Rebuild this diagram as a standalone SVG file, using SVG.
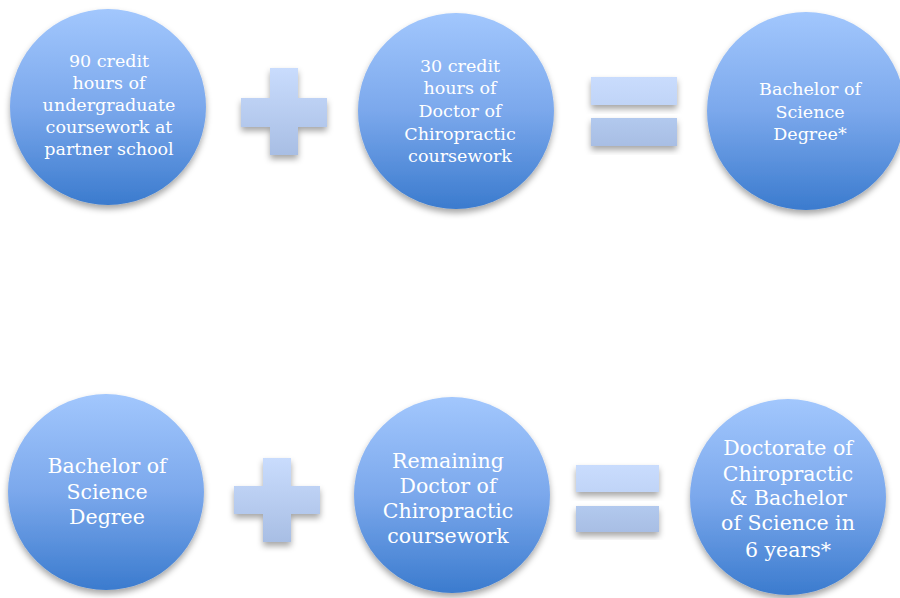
<svg xmlns="http://www.w3.org/2000/svg" width="900" height="598" viewBox="0 0 900 598">
<defs>
<linearGradient id="gc" x1="0" y1="0" x2="0" y2="1">
<stop offset="0" stop-color="#a2c7fd"/>
<stop offset="0.5" stop-color="#7ba8ec"/>
<stop offset="1" stop-color="#3b7bce"/>
</linearGradient>
<linearGradient id="gp" x1="0" y1="0" x2="0" y2="1">
<stop offset="0" stop-color="#c9dcfd"/>
<stop offset="1" stop-color="#a8bee4"/>
</linearGradient>
<linearGradient id="ge1" x1="0" y1="0" x2="0" y2="1">
<stop offset="0" stop-color="#c9dcfd"/>
<stop offset="1" stop-color="#c0d4f7"/>
</linearGradient>
<linearGradient id="ge2" x1="0" y1="0" x2="0" y2="1">
<stop offset="0" stop-color="#b2c9ee"/>
<stop offset="1" stop-color="#a8bee4"/>
</linearGradient>
<filter id="sh" x="-20%" y="-20%" width="140%" height="150%">
<feDropShadow dx="0" dy="4" stdDeviation="3" flood-color="#000" flood-opacity="0.35"/>
</filter>
</defs>
<style>
.c{fill:url(#gc);filter:url(#sh)}
.p{fill:url(#gp);filter:url(#sh)}
.e1{fill:url(#ge1);filter:url(#sh)}
.e2{fill:url(#ge2);filter:url(#sh)}
text{font-family:"DejaVu Serif","Liberation Serif",serif;fill:#ffffff;text-anchor:middle}
.s{font-size:17.5px}
.l{font-size:20.5px}
</style>
<g id="node-undergrad">
<circle class="c" cx="108" cy="107" r="98"/>
<text class="s"><tspan x="109" y="67">90 credit</tspan><tspan x="109" y="89">hours of</tspan><tspan x="109" y="111">undergraduate</tspan><tspan x="109" y="133">coursework at</tspan><tspan x="109" y="155">partner school</tspan></text>
</g>
<g id="node-plus1">
<path class="p" d="M270 68H298V98H327V127H298V155H270V127H241V98H270Z"/>
</g>
<g id="node-dc30">
<circle class="c" cx="456" cy="111" r="98"/>
<text class="s"><tspan x="460" y="72">30 credit</tspan><tspan x="460" y="94">hours of</tspan><tspan x="460" y="117">Doctor of</tspan><tspan x="460" y="140">Chiropractic</tspan><tspan x="460" y="162">coursework</tspan></text>
</g>
<g id="node-equals1">
<rect class="e1" x="591" y="77" width="86" height="28"/>
<rect class="e2" x="591" y="118" width="86" height="28"/>
</g>
<g id="node-bs1">
<circle class="c" cx="806" cy="111" r="99"/>
<text class="s"><tspan x="810" y="95">Bachelor of</tspan><tspan x="810" y="118">Science</tspan><tspan x="810" y="140">Degree*</tspan></text>
</g>
<g id="node-bs2">
<circle class="c" cx="106" cy="492" r="98"/>
<text class="l"><tspan x="107" y="473">Bachelor of</tspan><tspan x="107" y="499">Science</tspan><tspan x="107" y="524">Degree</tspan></text>
</g>
<g id="node-plus2">
<path class="p" d="M263 458H291V486H320V514H291V542H263V514H234V486H263Z"/>
</g>
<g id="node-remaining">
<circle class="c" cx="452" cy="495" r="98"/>
<text class="l"><tspan x="448" y="468">Remaining</tspan><tspan x="448" y="493">Doctor of</tspan><tspan x="448" y="518">Chiropractic</tspan><tspan x="448" y="543">coursework</tspan></text>
</g>
<g id="node-equals2">
<rect class="e1" x="576" y="465" width="83" height="27"/>
<rect class="e2" x="576" y="506" width="83" height="26"/>
</g>
<g id="node-dc-bs">
<circle class="c" cx="788" cy="497" r="98"/>
<text class="l"><tspan x="788" y="455">Doctorate of</tspan><tspan x="788" y="481">Chiropractic</tspan><tspan x="788" y="505">&amp; Bachelor</tspan><tspan x="788" y="530">of Science in</tspan><tspan x="788" y="557">6 years*</tspan></text>
</g>
<g id="connectors"/>
</svg>
